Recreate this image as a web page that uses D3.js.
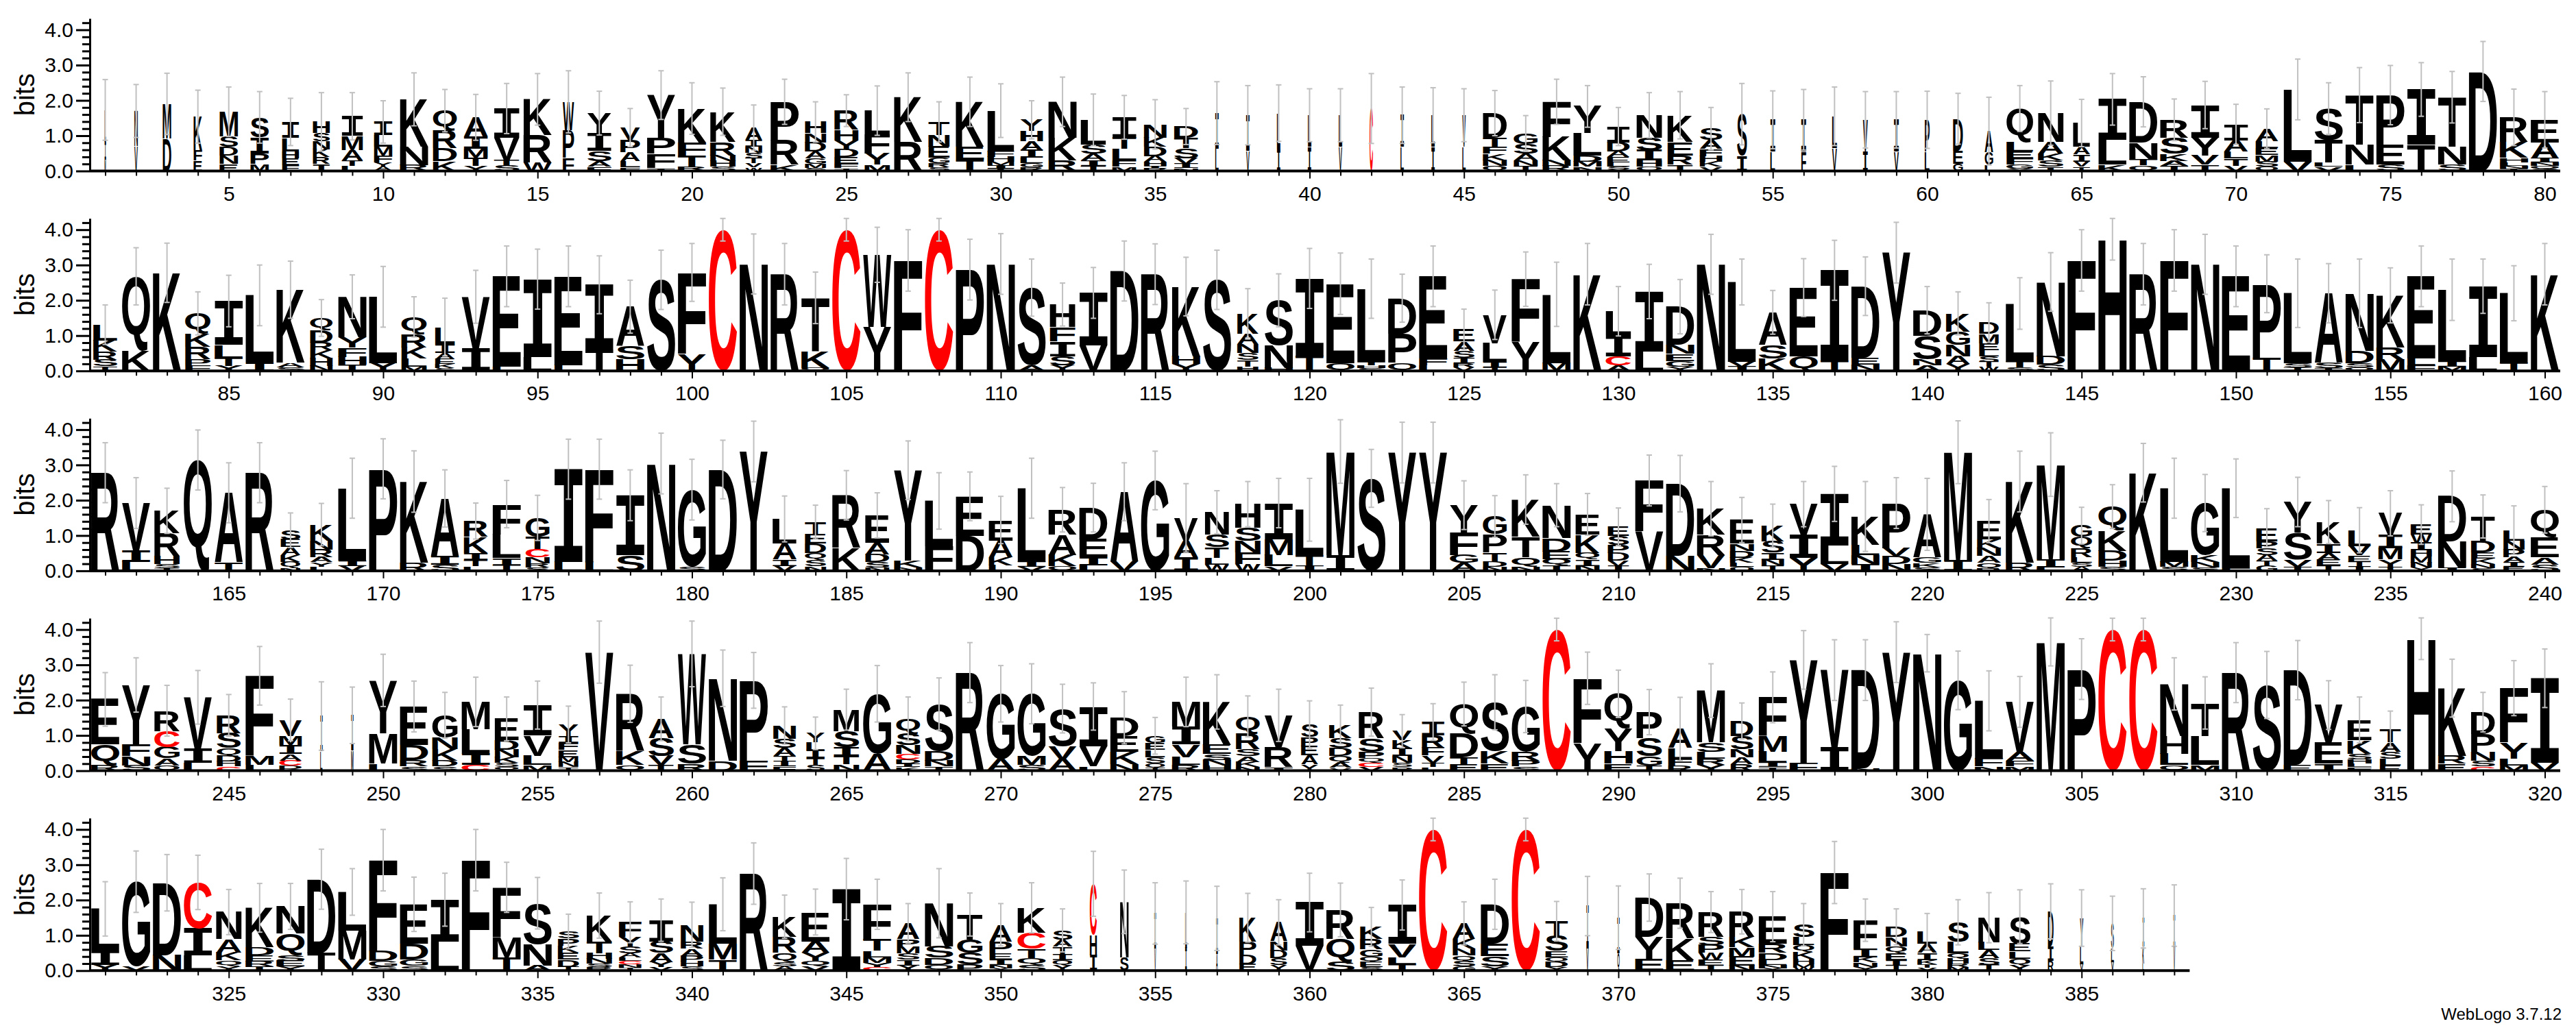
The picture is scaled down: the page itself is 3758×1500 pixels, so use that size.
<!DOCTYPE html>
<html>
<head>
<meta charset="utf-8">
<script src="https://cdn.jsdelivr.net/npm/d3@7"></script>
<style>
  body { margin: 0; background: #fff; }
  svg { display: block; }
</style>
</head>
<body>
<script>
// each column: letter + height in bits
const stacks1 = [
  "L.9 I.5 M.33", "N1.0 V.7", "M.98 D.92", "K.94 E.3 F.3", "M.7 D.25 E.2 N.23 S.3",
  "S.57 I.45 M.2 P.3", "I.45 L.38 E.2 F.16 H.2", "H.32 I.2 K.22 N.22 R.2 S.23", "I.55 M.4 A.3 L.15 T.15", "I.38 L.32 F.2 M.25 A.12 Y.12",
  "K1.34 N.52 R.17", "Q.57 R.5 D.36 K.28", "A.54 I.35 M.26 T.23 Y.14", "I.83 V.64 S.14 T.16", "K1.02 R.77 W.24",
  "P.78 W.8 F.38", "I.5 Y.57 S.29 A.16 F.12", "A.25 P.35 V.35 L.18 F.1", "Y1.21 F.41 P.45 T.08", "K.96 F.38 T.32 R.11",
  "K.86 R.38 H.16 N.16 S.12", "A.35 I.2 S.16 N.16 T.14 V.12 W.1", "P1.08 R.7 K.18", "H.32 D.26 N.26 A.2 G.15 M.12 S.08", "R.54 H.3 Y.25 D.22 E.2 F.12 T.08",
  "L.67 F.54 Y.32 M.18", "K1.27 R.82", "T.38 E.32 N.32 G.15 R.12 S.1", "K1.27 E.36 T.33", "L1.15 F.16 H.14 I.1 M.1 T.06",
  "H.29 I.22 A.25 Y.32 L.15 G.12 R.1", "N1.02 K.64 R.3", "L.7 S.25 A.2 I.16 T.14", "I.57 L.32 T.32 F.18 M.13", "N.38 D.26 K.26 A.16 H.12 I.08 R.06",
  "D.32 S.29 T.29 V.16 I.12 N.08", "I1.0 L.64", "I1.0 V.58", "L1.0 I.64", "L.9 I.68",
  "L.9 V.68", "C1.77", "I.9 L.68", "L.9 I.68", "V.9 L.68",
  "D.7 T.25 F.2 K.18 N.16 Q.15", "G.3 S.28 A.2 N.15 T.14", "F.99 K.67 N.16 R.14", "Y.76 L.64 D.16 M.14 N.13", "I.45 D.26 A.16 E.14 L.12 S.08 Y.05",
  "N.64 S.35 I.29 H.18 Q.12", "K.76 E.38 R.26 T.18", "S.32 A.26 F.2 H.16 K.14 V.12", "S1.18 I.43", "I.9 L.55",
  "I.9 F.55", "L.9 V.65", "V.9 I.55", "I.9 V.55", "P.9 L.55",
  "D.9 E.38 G.2", "A.6 G.35 L.18", "Q.96 L.26 E.2 F.16 G.12 Y.07", "N.82 A.32 K.2 S.17 T.13", "L.67 A.22 I.2 V.15 T.12",
  "I1.15 L.7 K.18", "D1.15 N.48 Q.16 T.17", "R.51 S.45 K.2 A.15 T.14", "I.92 Y.51 V.26 T.18", "I.45 T.2 A.32 L.2 V.15",
  "A.35 E.2 L.2 M.18 S.15 Q.12", "L2.04 V.27", "S.89 T.64 V.12 L.12", "T1.4 N.57 L.18", "P1.4 E.57 S.18",
  "I1.56 T.75", "T1.4 N.51 S.18", "D2.82", "R.7 K.45 H.12 L.1 N.08 T.07", "E.64 A.45 I.12 N.1 Q.08 S.06"
];
const stacks2 = [
  "L.45 K.32 R.22 S.19 T.13", "Q2.1 K.58", "K2.78", "Q.57 K.38 R.35 P.18 F.15", "I1.24 L.38 T.22 Y.14",
  "L1.91 I.23", "K2.07 A.13 S.1", "D.35 Q.35 H.22 K.22 R.22 N.14", "N1.15 Y.29 F.26 H.22 T.18", "L1.88 Y.22",
  "Q.48 K.32 R.38 L.22 M.13", "L.48 I.26 A.16 E.14 K.12 S.08", "V1.47 I.63", "E2.55 L.13", "I2.2 L.4",
  "E2.52 L.16", "I1.84 T.6", "A1.12 S.38 H.32", "S2.58", "F2.31 Y.48",
  "C4.0", "N3.03", "R2.74", "T1.5 K.48 Q.09", "C4.0",
  "W2.04 Y1.25", "F3.13", "C4.0", "P2.87", "N3.03",
  "S2.2 A.16", "H.64 I.41 F.41 S.26 Y.16", "I1.48 V.73", "D2.83", "R2.74",
  "K1.98 H.22 Y.19", "S2.58", "K.57 A.3 N.25 S.2 T.18 H.13", "S1.27 N.64 H.09", "I2.2 T.42",
  "E2.25 Q.22", "L2.07 T.1 S.08 H.08", "D1.0 P.83 Q.23", "E2.33 F.2 L.15", "E.35 A.26 S.2 I.15 R.12 V.1",
  "V.8 L.54 I.15 T.1", "F1.77 Y.83", "L1.95 M.22", "K2.74", "I.61 L.67 C.26 A.15",
  "I1.7 L.55", "D1.08 N.26 E.2 G.16 Y.12", "N3.02", "L2.26 V.14 I.12", "A.93 K.35 S.38",
  "E1.95 Q.41", "I2.56 T.29", "D2.02 E.2 N.18", "Y3.35", "D.73 S.67 A.16 N.16",
  "K.51 G.38 N.32 A.22 Y.2", "D.32 M.26 E.2 L.18 S.15 T.14 W.12", "L1.65 T.16 S.1", "N2.1 D.24 S.18", "F3.13",
  "H3.73", "R2.74", "F3.13", "N3.02", "E2.68",
  "P2.09 T.38", "L1.98 S.12 T.1", "A1.98 S.14 T.08", "N1.63 D.35 S.12 Q.1", "K1.47 M.32 R.35",
  "E2.33 L.2 F.15", "L2.04 I.14 M.12", "I2.0 L.4", "L1.98 T.22", "K2.74"
];
const stacks3 = [
  "R2.78", "V1.34 I.32 L.26", "R.64 K.64 H.22 S.12 T.08", "Q3.14", "A1.98 T.23",
  "R2.78", "S.26 A.22 E.22 K.2 Q.18 N.07", "K.45 N.26 R.22 A.14 L.12 Y.12", "L2.05 I.15 V.14", "P2.89",
  "K2.3 R.23", "A1.63 I.24 S.18", "K.45 R.45 I.2 T.18 L.13", "F.86 L.67 I.2 T.16", "G.54 T.35 C.22 N.18 R.12 S.09",
  "I2.62 L.26", "F2.62 L.26", "I1.7 S.44", "N3.04", "G2.18 S.12",
  "D2.87", "Y3.38", "L.7 A.45 I.18 V.14", "T.35 D.26 E.26 Q.2 S.18 N.13", "R1.5 K.64",
  "E.78 A.32 D.22 S.15 N.1", "Y2.56 K.19 N.1", "L1.28 F.7", "E1.12 D.99", "E.58 A.48 K.22 L.16",
  "L2.08 I.14 V.12", "R.7 A.58 K.32 Q.13", "D.9 E.51 I.22 L.16", "A1.98 V.26", "G2.56",
  "V.64 A.48 I.38", "N.64 T.3 S.35 L.2 W.17", "H.67 F.32 S.38 N.32 W.2", "I1.02 M.45 L.32 V.13", "L1.28 T.3 I.15",
  "M2.93 I.45", "S2.62", "Y3.35", "Y3.35", "F.64 Y.77 A.22 G.23",
  "P.51 G.51 T.26 D.14 N.12", "K1.06 T.58 Q.26 N.12", "N.93 D.38 E.22 Q.18 T.15", "K.51 E.58 Q.19 I.18 N.14", "D.22 S.26 E.26 P.22 V.15 I.14",
  "F1.44 V1.12", "D2.05 N.42", "K.74 R.58 V.36 N.08", "E.67 D.2 N.2 K.14 L.12 Q.11", "K.45 S.32 I.2 N.16 T.15",
  "V.86 I.66 Y.37", "I1.47 L.51 V.2", "K.8 L.29 N.26 I.19", "P1.28 D.22 N.2 V.22", "A1.22 G.16 K.12 S.1",
  "M3.07 I.29", "E.51 A.2 K.26 N.22 Q.15 R.07", "K2.3 R.23", "M2.69 I.22 L.1", "Q.32 G.32 R.26 L.14 A.12 S.12",
  "Q.67 K.58 D.29 H.16 S.12", "K2.78", "L2.08 M.14 S.12", "G1.47 K.2 N.15 S.1", "L2.27 F.07",
  "E.38 S.2 P.2 A.16 G.14 T.14", "Y.86 S.77 V.2 T.12", "K.61 I.26 A.2 E.16 T.15", "L.45 V.26 E.18 T.14 I.12", "V.61 I.38 M.32 Y.2 T.12",
  "E.29 I.22 W.22 H.18 M.16 N.14 Y.1", "D1.28 N.74 I.09", "T.7 D.32 E.18 K.14 N.12 S.08", "L.29 N.26 P.22 A.14 E.12 I.12", "Q.77 E.58 A.2 S.18"
];
const stacks4 = [
  "E1.28 Q.58 R.16", "Y1.7 F.32 N.26 S.15", "R.58 C.45 G.32 A.2 Q.15", "V1.47 I.39 L.22", "R.51 S.42 Q.22 C.12 D.16 H.14",
  "F2.27 L.16 M.26", "V.45 I.26 M.26 A.18 C.14 D.1 K.05", "I1.0 L.55", "I1.0 M.57", "Y1.5 M.86 L.2",
  "E1.09 D.42 R.18 S.13", "G.64 K.32 N.32 D.17 S.12", "L.7 M.77 I.32 C.16", "E.61 D.26 N.22 K.16 S.12 Q.1", "I.86 V.58 L.26 M.16",
  "Y.32 E.2 F.2 I.2 M.15 N.14 T.1", "V3.36", "R1.63 K.39 Q.16", "A.54 S.51 V.26 T.16", "W2.57 S.54 R.2",
  "N2.34 D.28", "P2.27 F.29", "N.38 S.26 A.22 T.16 I.14 F.12", "Y.26 I.22 L.22 T.2 S.16", "M.61 S.45 I.26 T.23 N.18",
  "G1.7 A.48", "Q.42 S.32 N.26 C.14 D.12 I.11 K.1", "S1.34 D.26 N.17 T.12", "R2.78", "G1.86 A.32",
  "G1.76 M.26 S.16", "S1.06 V.38 A.32", "I1.12 V.58 L.12", "E.45 D.51 K.35 N.19", "L.2 E.2 G.2 S.18 Q.12 T.09",
  "M.7 I.51 V.35 L.22 R.17", "K1.22 E.26 H.15 N.16 S.16", "Q.48 R.45 S.2 A.16 K.14 N.11", "R.57 V.9 I.1", "S.35 A.26 E.26 P.26 Y.18",
  "K.38 S.29 D.22 Q.2 A.14 V.08", "R.74 S.38 C.13 P.17 Q.13 V.11", "V.26 I.22 K.22 N.2 S.12 P.1", "I.38 R.35 F.22 V.2 T.13 L.1", "Q.83 D.67 E.19 T.2",
  "S1.39 K.35 E.2", "G1.28 R.26 P.16 S.12", "C4.0", "F1.84 Y.78", "Q.99 Y.64 H.35 E.2",
  "P.74 S.51 G.26 T.15", "A.54 L.29 F.2 R.15", "M1.47 S.26 L.2 R.18 Y.16", "D.42 S.38 N.22 A.2 R.19", "F1.09 M.45 L.32 I.12 T.1",
  "Y2.91 F.23", "V2.18 I.67", "D2.78 N.07", "Y3.36", "N3.33",
  "G2.56", "L1.63 F.22 N.13", "V1.41 A.26 F.16 M.12", "M3.65", "P2.88",
  "C4.0", "C4.0", "N1.47 H.51 L.32 Q.16", "T.93 L.83 M.16", "R2.78",
  "S2.43", "D2.69 E.16", "V1.06 E.6 I.2", "E.58 K.38 S.16 H.12 F.1 L.1", "T.38 A.26 L.2 S.2 E.14",
  "H3.74", "K1.92 E.2 R.22", "D.61 P.51 N.26 C.12 S.16", "F1.54 Y.45 L.2 M.15", "I2.4 V.22"
];
const stacks5 = [
  "L1.19 I.4 Y.16", "G2.4 V.12", "D2.05 N.44", "C1.3 I.77 L.43", "N.77 A.38 K.22 Q.16 Y.13",
  "K1.12 D.22 E.18 R.14 T.12", "Q.61 N.77 E.16 S.16 Y.12", "D2.09 T.5", "L1.09 M.83 V.31", "F2.57 D.29 G.15 S.12",
  "E1.12 D.45 G.18 S.13", "I1.19 L.82", "F3.13", "F1.41 M.58 T.37", "S1.16 N.6 A.15",
  "D.2 E.2 K.2 P.2 S.2 T.11", "K.74 T.32 H.16 N.14 R.1 S.1", "F.42 S.2 Y.26 A.12 C.1 L.1 N.09 T.08", "I.61 A.26 S.32 Y.14 V.1", "N.48 A.2 R.2 P.16 H.14 S.12",
  "L1.12 M.45 T.31", "R2.75", "K.58 R.45 Q.26 A.12 S.12", "E.83 A.32 Y.23 Q.15 V.13", "I2.31",
  "F1.0 T.32 C.1 L.18 M.16 Y.12", "A.45 M.2 P.2 S.18 I.16 Y.15", "N1.22 S.32 D.2 Q.17", "T.71 G.38 S.32 P.18", "A.48 P.32 E.18 I.16 N.1 Y.06",
  "K.71 C.45 T.26 Q.2 S.16", "S.26 T.2 A.2 I.18 Q.16 Y.14", "C1.44 H.58 I.44", "N1.57 S.38", "I1.0 V.62",
  "L1.0 I.65", "I1.0 A.48", "K.67 P.38 D.26 E.19", "A.54 N.26 D.22 S.2 Y.15", "I1.23 V.7",
  "Q.64 R.83 S.25", "K.35 R.29 G.2 Q.16 E.14 S.1", "I1.1 V.38 L.2 T.18", "C4.0", "A.45 K.26 N.2 Q.16 S.14 G.13",
  "D1.12 E.35 S.29 Y.12", "C4.0", "S.42 T.42 E.18 D.14 Q.14 Y.1", "I1.2 V.63", "I1.0 Q.5",
  "D1.12 Y.64 E.31", "R1.0 K.61 E.3", "R.71 P.22 S.22 W.2 E.16 T.15", "R.72 E.26 K.29 M.26 N.14", "E.77 R.26 D.2 L.14 N.1 Y.06",
  "S.35 K.2 L.22 Q.2 H.14 M.1 W.09", "F2.78", "F.8 I.26 K.14 N.13 Y.1", "D.29 E.2 N.26 Q.2 I.15 T.14", "L.35 A.26 I.2 K.12 T.1 V.08",
  "S.55 L.32 Q.16 H.14 M.1 R.1", "N.7 A.22 L.22 S.2 T.16", "S.77 Q.2 E.22 L.2 Y.14", "D1.0 I.4 R.28", "Y.8 L.5 V.19",
  "S.7 L.4 V.24", "I.8 K.48 L.2", "I.9 V.66"
];

// half-length of each error bar, in bits
const errors1 = [.86,.75,.87,.75,.7,.73,.67,.83,.67,.6, .75,.6,.65,.71,.73,.88,.62,.54,.69,.73,
  .67,.64,.64,.57,.45,.7,.69,.57,.7,.76, .54,.7,.73,.62,.7,.51,.89,.84,.8,.75,
  .75,.99,.8,.78,.75,.64,.5,.64,.59,.54, .64,.67,.6,.87,.82,.86,.83,.8,.8,.81,
  .72,.96,.65,.91,.67,.73,.71,.59,.67,.57, .56,.86,.73,.78,.84,.76,.73,.85,.8,.8];
const errors2 = [.56,.81,.84,.61,.73,.86,.81,.52,.62,.86, .57,.82,.75,.86,.85,.86,.82,.75,.84,.82,
  .32,.85,.87,.73,.32,.78,.87,.32,.86,.86, .81,.61,.72,.85,.86,.83,.84,.7,.75,.85,
  .87,.84,.68,.86,.57,.7,.77,.91,.87,.7, .77,.77,.85,.65,.62,.82,.85,.83,.86,.67,
  .61,.56,.73,.83,.87,.59,.87,.87,.85,.86, .82,.97,.84,.97,.78,.86,.87,.77,.78,.87];
const errors3 = [.85,.72,.64,.85,.85,.85,.49,.6,.85,.85, .87,.81,.51,.67,.64,.85,.85,.72,.86,.86,
  .83,.86,.65,.48,.7,.64,.83,.8,.69,.67, .85,.63,.69,.82,.83,.97,.61,.64,.7,.89,
  .9,.82,.86,.86,.69,.59,.7,.61,.59,.53, .72,.8,.77,.64,.61,.64,.78,.99,.72,1.02,
  .89,.61,.86,.9,.52,.62,.83,.85,.81,.83, .54,.7,.61,.64,.64,.56,.72,.61,.69,.66];
const errors4 = [.76,.77,.72,.76,.59,.83,.59,.97,.8,.74, .72,.65,.7,.62,.68,.52,.88,.81,.62,.93,
  .8,.79,.53,.46,.58,.8,.62,.74,.85,.8, .85,.69,.67,.74,.52,.7,.77,.58,.74,.67,
  .55,.68,.47,.52,.62,.78,.74,.32,.74,.67, .64,.9,.76,.51,.72,.83,.86,.86,.86,.53,
  .83,.85,.72,.68,.86,.32,.32,.74,.74,.85, .95,.84,.69,.65,.51,.59,.82,.56,.78,.83];
const errors5 = [.77,.87,.8,.77,.64,.69,.65,.85,.66,.87, .77,.75,.87,.71,.73,.49,.64,.58,.6,.64,
  .75,.87,.61,.65,.87,.71,.56,.98,.61,.6, .71,.61,.92,.9,.87,.89,.91,.69,.64,.83,
  .76,.55,.71,.32,.61,.71,.32,.56,.84,.9, .67,.71,.58,.63,.71,.6,.88,.6,.51,.51,
  .64,.71,.76,.78,.8,.77,.84,.87];

// columns drawn narrower (fraction of symbols that are not gaps)
const narrowCols = [
  [1,.05],[2,.12],[3,.3],[4,.3],[5,.65],[6,.65],[7,.6],[8,.6],[9,.75],[10,.65],[12,.85],[13,.85],[14,.9],
  [16,.4],[17,.85],[18,.7],[21,.9],[22,.6],[24,.75],[25,.85],[26,.9],[28,.75],[30,.95],[31,.8],[33,.9],
  [34,.85],[35,.8],[36,.85],[37,.12],[38,.12],[39,.12],[40,.12],[41,.12],[42,.12],[43,.12],[44,.12],[45,.12],
  [46,.85],[47,.85],[50,.8],[51,.9],[52,.9],[53,.8],[54,.35],[55,.17],[56,.17],[57,.17],[58,.17],[59,.17],
  [60,.17],[61,.35],[62,.3],[63,.95],[64,.9],[65,.6],[70,.85],[71,.8],
  [81,.85],[84,.9],[88,.8],[91,.9],[92,.7],[112,.9],[118,.75],[125,.75],[126,.85],[130,.9],[141,.85],[142,.7],
  [163,.9],[167,.7],[168,.8],[173,.85],[175,.85],[183,.85],[184,.75],[186,.85],[190,.85],[196,.85],[197,.85],
  [198,.9],[206,.85],[209,.85],[210,.75],[214,.85],[215,.8],[222,.85],[225,.75],[231,.75],[233,.85],[234,.8],
  [235,.85],[236,.75],[238,.85],[239,.75],
  [243,.9],[245,.85],[247,.8],[248,.08],[249,.08],[252,.9],[254,.85],[256,.7],[259,.9],[263,.8],[264,.65],
  [265,.9],[267,.85],[275,.7],[278,.85],[280,.6],[281,.8],[282,.9],[283,.7],[284,.8],[291,.9],[292,.85],
  [294,.8],[314,.85],[315,.75],[318,.85],
  [325,.9],[336,.75],[337,.9],[338,.8],[339,.85],[340,.8],[343,.85],[347,.8],[349,.9],[350,.8],[352,.7],
  [353,.25],[354,.3],[355,.06],[356,.06],[357,.06],[358,.6],[359,.6],[362,.8],[365,.8],[368,.8],[369,.08],
  [370,.08],[373,.9],[374,.9],[376,.75],[378,.85],[379,.75],[380,.7],[381,.75],[382,.75],[383,.75],
  [384,.2],[385,.12],[386,.1],[387,.06],[388,.06]
];

const rowStarts = [1, 81, 161, 241, 321];
const allStacks = [stacks1, stacks2, stacks3, stacks4, stacks5];
const allErrors = [errors1, errors2, errors3, errors4, errors5];
const yTicks = [0, 1, 2, 3, 4];
const maxBits = Math.log2(20);

const width = 3758, height = 1500;
const colStep = 45.05;
const letterW = 41;
const bitPx = 51.5;
const font = "'Liberation Sans', Arial, Helvetica, sans-serif";
// the logo's I carries serifs, so it comes from a mono face
const serifFont = "'DejaVu Sans Mono', 'Liberation Mono', monospace";
const widthFrac = new Map(narrowCols);

const svg = d3.select('body').append('svg')
  .attr('width', width)
  .attr('height', height);

// ink bounds of each glyph so a letter can be stretched to fill its box
const ctx = document.createElement('canvas').getContext('2d');
const glyphs = {};
function glyph(ch) {
  if (!glyphs[ch]) {
    const f = ch === 'I' ? serifFont : font;
    ctx.font = `bold 200px ${f}`;
    const m = ctx.measureText(ch);
    glyphs[ch] = {
      f,
      l: m.actualBoundingBoxLeft, r: m.actualBoundingBoxRight,
      a: m.actualBoundingBoxAscent, d: m.actualBoundingBoxDescent
    };
  }
  return glyphs[ch];
}

const parseStack = s => s.split(' ').map(t => ({ ch: t[0], bits: +t.slice(1) }));

allStacks.forEach((stacks, row) => {
  const start = rowStarts[row];
  const last = start + stacks.length - 1;
  const base = 249.5 + row * 291.7;

  const x = d3.scaleLinear()
    .domain([start - 0.5, start + 79.5])
    .range([131, 131 + 80 * colStep]);
  const y = d3.scaleLinear()
    .domain([0, maxBits])
    .range([base, base - maxBits * bitPx]);

  const g = svg.append('g');

  // letter stacks, smallest at the bottom
  const cols = g.selectAll('g.col')
    .data(stacks.map((s, i) => ({ pos: start + i, letters: parseStack(s), err: allErrors[row][i] })))
    .enter().append('g')
    .attr('class', 'col');

  cols.each(function(d) {
    const w = letterW * (widthFrac.get(d.pos) || 1);
    const x0 = x(d.pos) - w / 2;
    const sorted = d.letters.slice().sort((a, b) => a.bits - b.bits);
    let acc = 0;
    sorted.forEach(L => {
      const yb = y(acc);
      const h = yb - y(acc + L.bits);
      acc += L.bits;
      const m = glyph(L.ch);
      const sx = w / (m.l + m.r), sy = h / (m.a + m.d);
      d3.select(this).append('text')
        .attr('font-family', m.f)
        .attr('font-weight', 'bold')
        .attr('font-size', 200)
        .attr('fill', L.ch === 'C' ? '#ff0000' : '#000')
        .attr('transform', `translate(${x0},${yb}) scale(${sx},${sy}) translate(${m.l},${-m.d})`)
        .text(L.ch);
    });
    d.total = acc;
  });

  // error bars
  cols.each(function(d) {
    const cx = x(d.pos);
    const lo = y(Math.max(0, d.total - d.err)), hi = y(d.total + d.err);
    const eb = d3.select(this).append('g')
      .attr('stroke', '#c0c0c0')
      .attr('stroke-width', 2);
    eb.append('line').attr('x1', cx).attr('x2', cx).attr('y1', lo).attr('y2', hi);
    eb.append('line').attr('x1', cx - 4).attr('x2', cx + 4).attr('y1', hi).attr('y2', hi);
    eb.append('line').attr('x1', cx - 4).attr('x2', cx + 4).attr('y1', lo).attr('y2', lo);
  });

  // y axis
  const yAxis = g.append('g')
    .attr('transform', `translate(${x(start - 0.5)},0)`)
    .call(d3.axisLeft(y).tickValues(yTicks).tickFormat(d3.format('.1f'))
      .tickSize(20).tickSizeOuter(0).tickPadding(4));
  yAxis.select('.domain').attr('stroke-width', 3);
  yAxis.selectAll('.tick line').attr('stroke-width', 3);
  yAxis.selectAll('text').attr('font-size', 30).attr('font-family', font);

  const yMinor = g.append('g')
    .attr('transform', `translate(${x(start - 0.5)},0)`)
    .call(d3.axisLeft(y).tickValues(d3.range(0.2, 4.3, 0.2).filter(v => Math.abs(v - Math.round(v)) > 0.01))
      .tickSize(11).tickFormat(''));
  yMinor.select('.domain').remove();
  yMinor.selectAll('.tick line').attr('stroke-width', 3);

  g.append('text')
    .attr('transform', `translate(50,${y(maxBits / 2)}) rotate(-90)`)
    .attr('text-anchor', 'middle')
    .attr('font-family', font)
    .attr('font-size', 40)
    .text('bits');

  // x axis: baseline, a tick per column, labels every 5
  g.append('line')
    .attr('x1', x(start - 0.5)).attr('x2', x(last + 0.5))
    .attr('y1', base).attr('y2', base)
    .attr('stroke', '#000').attr('stroke-width', 4);

  const positions = d3.range(start, last + 1);
  const xMinor = g.append('g')
    .attr('transform', `translate(0,${base})`)
    .call(d3.axisBottom(x).tickValues(positions.filter(p => p % 5)).tickSize(7).tickFormat(''));
  xMinor.select('.domain').remove();
  xMinor.selectAll('.tick line').attr('stroke-width', 2);

  const xMajor = g.append('g')
    .attr('transform', `translate(0,${base})`)
    .call(d3.axisBottom(x).tickValues(positions.filter(p => p % 5 === 0))
      .tickSize(11).tickPadding(11).tickFormat(d3.format('d')));
  xMajor.select('.domain').remove();
  xMajor.selectAll('.tick line').attr('stroke-width', 2);
  xMajor.selectAll('text').attr('font-size', 30).attr('font-family', font);
});

svg.append('text')
  .attr('x', 3737).attr('y', 1488)
  .attr('text-anchor', 'end')
  .attr('font-family', font)
  .attr('font-size', 24)
  .text('WebLogo 3.7.12');
</script>
</body>
</html>
